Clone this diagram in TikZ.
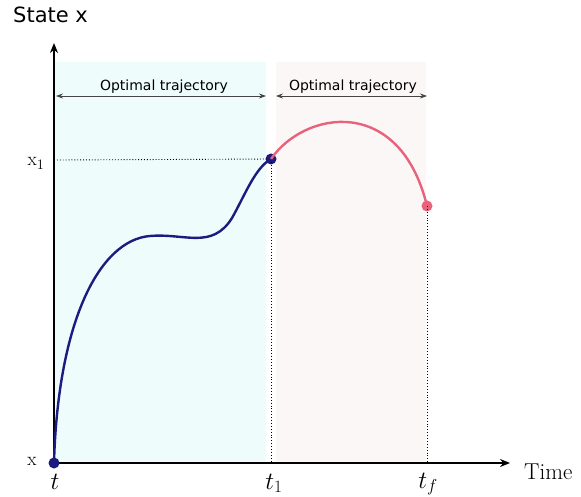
\documentclass[tikz,border=0pt]{standalone}
\usepackage{fontspec}
\newfontfamily\dvs{DejaVu Sans}
\usetikzlibrary{arrows.meta}
\definecolor{regA}{HTML}{EEFCFC}
\definecolor{regB}{HTML}{FCF7F7}
\definecolor{navy}{HTML}{1C1C80}
\definecolor{rose}{HTML}{E8627C}
\definecolor{ann}{HTML}{444444}
\begin{document}
\begin{tikzpicture}[x=1pt,y=-1pt,
  axis/.style={line width=2pt,-{Stealth[length=10pt,width=8pt]}},
  dim/.style={ann,line width=0.8pt,{Stealth[length=7pt,width=5pt]}-{Stealth[length=7pt,width=5pt]}},
  dimlabel/.style={font=\dvs\fontsize{14}{16}\selectfont,anchor=base,inner sep=0pt},
  guide/.style={dotted,line width=0.9pt},
  dot/.style={circle,inner sep=0pt,minimum size=11pt},
  lab/.style={font=\fontsize{19}{21}\selectfont,inner sep=0pt},
  tlab/.style={font=\fontsize{23}{25}\selectfont,inner sep=0pt,anchor=base}]
\useasboundingbox (0,0) rectangle (581,497);
\fill[regA] (54,62) rectangle (266,463);
\fill[regB] (276,62) rectangle (426,463);
\coordinate (O) at (54,463);
\coordinate (ytip) at (54,43);
\coordinate (xtip) at (510,463);
\draw[axis] (O) -- (ytip);
\draw[axis] (O) -- (xtip);
\coordinate (d1a) at (56,96); \coordinate (d1b) at (266,96);
\coordinate (d2a) at (276,96); \coordinate (d2b) at (427,96);
\draw[dim] (d1a) -- (d1b);
\draw[dim] (d2a) -- (d2b);
\node[dimlabel] (o1) at (164,91) {Optimal trajectory};
\node[dimlabel] (o2) at (353,91) {Optimal trajectory};
\node[font=\dvs\fontsize{21}{23}\selectfont,anchor=base west,inner sep=0pt] (ylab) at (13,23) {State x};
\node[font=\fontsize{23}{25}\selectfont,anchor=base west,inner sep=0pt] (xlab) at (524,479) {Time};
\node[dot,fill=navy] (p0) at (54,463) {};
\node[dot,fill=navy] (p1) at (271,159) {};
\node[dot,fill=rose] (p2) at (427,206) {};
\coordinate (y1) at (57,160);
\coordinate (b1) at (271,463);
\coordinate (b2) at (427,463);
\draw[guide] (y1) -- (p1.center);
\draw[guide] (p1.center) -- (b1);
\draw[guide] (p2.center) -- (b2);
\draw[navy,line width=2.4pt] (p0.center) .. controls (58,320) and (100,240) .. (150,236)
  .. controls (185,233) and (212,250) .. (232,218)
  .. controls (245,195) and (255,168) .. (p1.center);
\draw[rose,line width=2.4pt] (p1.center) .. controls (305,110) and (400,95) .. (p2.center);
\node[lab,anchor=base] (x1lab) at (36,166) {x$_1$};
\node[lab,anchor=base] (x0lab) at (32,465) {x};
\node[tlab] (tlab) at (55,489) {$t$};
\node[tlab] (t1lab) at (274,489) {$t_1$};
\node[tlab] (tflab) at (428,488) {$t_f$};
\end{tikzpicture}
\end{document}
